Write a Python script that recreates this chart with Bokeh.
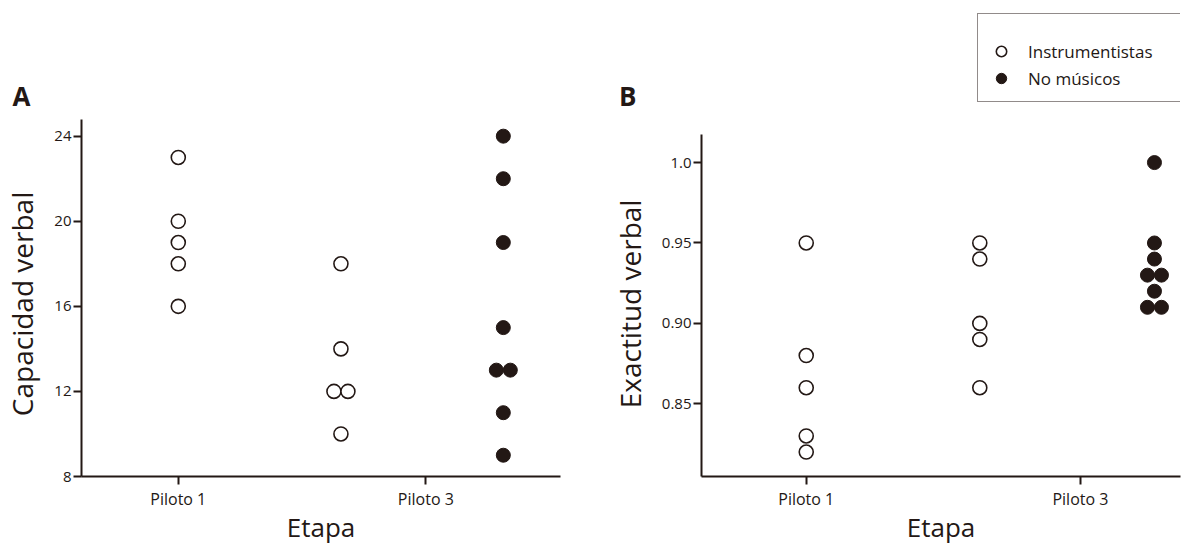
from bokeh.plotting import figure
from bokeh.layouts import row
from bokeh.models import FixedTicker, Legend, LegendItem, LinearAxis
from bokeh.embed import file_html
from bokeh.resources import INLINE

# ---------------- data ----------------
etapas = ["Piloto 1", "Piloto 3"]

# Panel A: Capacidad verbal
a_instr_p1 = [23, 20, 19, 18, 16]
a_instr_p3 = [18, 14, 12, 12, 10]
a_nomus_p3 = [24, 22, 19, 15, 13, 13, 11, 9]
a_yticks = [8, 12, 16, 20, 24]

# Panel B: Exactitud verbal
b_instr_p1 = [0.95, 0.88, 0.86, 0.83, 0.82]
b_instr_p3 = [0.95, 0.94, 0.90, 0.89, 0.86]
b_nomus_p3 = [1.00, 0.95, 0.94, 0.93, 0.93, 0.92, 0.91, 0.91]
b_yticks = [0.85, 0.90, 0.95, 1.00]
b_ylabels = ["0.85", "0.90", "0.95", "1.0"]

INK = "#231815"
FONT = "Open Sans"
MSIZE = 14
PAIR_PX = 14          # horizontal separation of tied points, in px
H = 547
FB = 478              # frame bottom (px from top); frame top is at 0
NBSP = "\u00a0" * 18  # shifts the rotated axis title down towards the axis centre
LETTER_Y = 96         # vertical centre of the panel letters (px from top)


def swarm(values, center, px_per_unit):
    """Place tied values side by side around a centre position."""
    counts = {}
    for v in values:
        counts[v] = counts.get(v, 0) + 1
    seen, xs = {}, []
    for v in values:
        n = counts[v]
        k = seen.get(v, 0)
        seen[v] = k + 1
        xs.append(center + (k - (n - 1) / 2) * PAIR_PX / px_per_unit)
    return xs


def style(p, ylabel, yticks, ybounds, overrides=None):
    p.outline_line_color = None
    p.xgrid.grid_line_color = None
    p.ygrid.grid_line_color = None
    for ax in (p.xaxis[0], p.yaxis[0]):
        ax.axis_line_color = INK
        ax.axis_line_width = 2
        ax.major_tick_line_color = INK
        ax.major_tick_line_width = 2
        ax.major_tick_out = 8
        ax.major_tick_in = 0
        ax.minor_tick_line_color = None
        ax.major_label_text_color = INK
        ax.major_label_text_font = FONT
        ax.axis_label_text_font = FONT
        ax.axis_label_text_font_style = "normal"
        ax.axis_label_text_color = INK
    p.xaxis.ticker = FixedTicker(ticks=[0, 1])
    p.xaxis.major_label_overrides = {0: etapas[0], 1: etapas[1]}
    p.xaxis.major_label_text_font_size = "16px"
    p.xaxis.axis_label = "Etapa"
    p.xaxis.axis_label_text_font_size = "26px"
    p.xaxis.major_label_standoff = 3
    p.xaxis.axis_label_standoff = -4
    p.yaxis.ticker = FixedTicker(ticks=yticks)
    p.yaxis.bounds = ybounds
    if overrides:
        p.yaxis.major_label_overrides = overrides
    p.yaxis.major_label_text_font_size = "15px"
    p.yaxis.axis_label = ylabel + NBSP
    p.yaxis.axis_label_text_font_size = "28px"
    p.yaxis.major_label_standoff = 2
    p.yaxis.axis_label_standoff = 10


def panel_letter(p, text, y_loc, standoff):
    """Panel letter drawn as the only tick label of an extra, line-less left axis."""
    ax = LinearAxis(ticker=FixedTicker(ticks=[y_loc]),
                    major_label_overrides={y_loc: text},
                    axis_line_color=None, major_tick_line_color=None,
                    minor_tick_line_color=None, major_tick_out=0, major_tick_in=0,
                    major_label_standoff=standoff, major_label_text_font=FONT,
                    major_label_text_font_size="26px",
                    major_label_text_font_style="bold",
                    major_label_text_color=INK)
    p.add_layout(ax, "left")


# ---------------- panel A ----------------
pxA, pyA = 248.0, 21.36       # px per category step / px per unit
xA0 = -0.391
pA = figure(width=590, height=H, output_backend="svg", toolbar_location=None,
            x_range=(xA0, 1.544), y_range=(8, 8 + FB / pyA),
            min_border_left=80, min_border_right=30,
            min_border_top=0, min_border_bottom=H - FB)
style(pA, "Capacidad verbal", a_yticks, (8, 8 + (FB - 119) / pyA))
panel_letter(pA, "A", 8 + (FB - LETTER_Y) / pyA, -30)
a_open_x = swarm(a_instr_p1, 0, pxA) + swarm(a_instr_p3, 1 - 0.343, pxA)
a_open_y = a_instr_p1 + a_instr_p3
a_fill_x = swarm(a_nomus_p3, 1 + 0.313, pxA)
pA.scatter(a_open_x, a_open_y, size=MSIZE, marker="circle", fill_color="white",
           line_color=INK, line_width=1.6)
pA.scatter(a_fill_x, a_nomus_p3, size=MSIZE, marker="circle", fill_color=INK,
           line_color=INK, line_width=1)

# ---------------- panel B ----------------
pxB, pyB = 274.3, 1615.0
xB0 = -0.382
yB0 = 0.85 - (FB - 405) / pyB
pB = figure(width=596, height=H, output_backend="svg", toolbar_location=None,
            x_range=(xB0, 1.365), y_range=(yB0, yB0 + FB / pyB),
            min_border_left=111, min_border_right=6,
            min_border_top=0, min_border_bottom=H - FB)
style(pB, "Exactitud verbal", b_yticks, (yB0, yB0 + (FB - 135) / pyB),
      {t: l for t, l in zip(b_yticks, b_ylabels)})
panel_letter(pB, "B", yB0 + (FB - LETTER_Y) / pyB, -29)
b_open_x = swarm(b_instr_p1, 0, pxB) + swarm(b_instr_p3, 1 - 0.367, pxB)
b_open_y = b_instr_p1 + b_instr_p3
b_fill_x = swarm(b_nomus_p3, 1 + 0.27, pxB)
r_open = pB.scatter(b_open_x, b_open_y, size=MSIZE, marker="circle", fill_color="white",
                    line_color=INK, line_width=1.6)
r_fill = pB.scatter(b_fill_x, b_nomus_p3, size=MSIZE, marker="circle", fill_color=INK,
                    line_color=INK, line_width=1)

legend = Legend(items=[LegendItem(label="Instrumentistas", renderers=[r_open]),
                       LegendItem(label="No músicos", renderers=[r_fill])],
                location=(276, FB - 104), title=" ", title_text_font_size="12px",
                title_standoff=0,
                padding=10, spacing=1, glyph_width=26, glyph_height=26,
                label_height=26, label_standoff=14, label_width=143,
                label_text_font=FONT, label_text_font_size="17px",
                label_text_color=INK, border_line_color=INK, border_line_width=1.5,
                background_fill_color="white", background_fill_alpha=1,
                margin=0)
pB.add_layout(legend)

layout = row(pA, pB)
open("out.html", "w").write(file_html(layout, INLINE))
